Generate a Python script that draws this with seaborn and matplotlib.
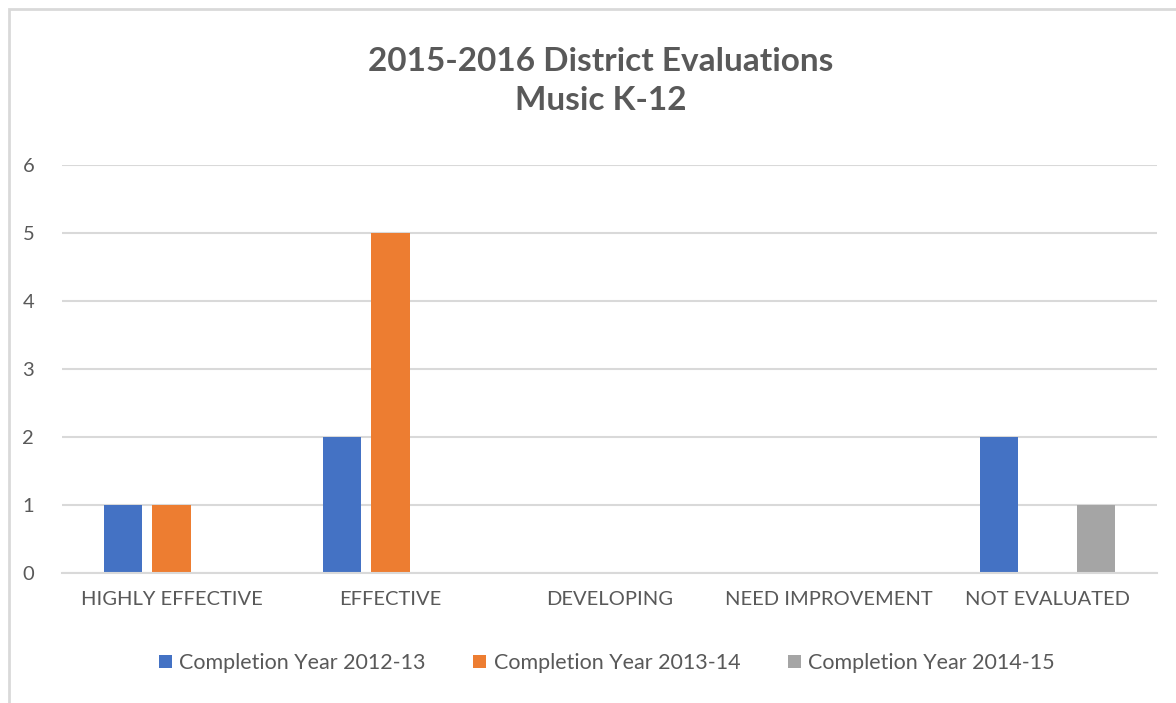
import matplotlib
matplotlib.use("Agg")
import matplotlib.pyplot as plt
import seaborn as sns
import pandas as pd
from matplotlib.patches import Rectangle, Patch

categories = ["HIGHLY EFFECTIVE", "EFFECTIVE", "DEVELOPING", "NEED IMPROVEMENT", "NOT EVALUATED"]
series_names = ["Completion Year 2012-13", "Completion Year 2013-14", "Completion Year 2014-15"]
year_2012_13 = [1, 2, 0, 0, 2]
year_2013_14 = [1, 5, 0, 0, 0]
year_2014_15 = [0, 0, 0, 0, 1]
colors = ["#4472C4", "#ED7D31", "#A5A5A5"]
title = "2015-2016 District Evaluations\nMusic K-12"

rows = []
for name, vals in zip(series_names, [year_2012_13, year_2013_14, year_2014_15]):
    for c, v in zip(categories, vals):
        rows.append({"category": c, "series": name, "value": v})
df = pd.DataFrame(rows)

sns.set_theme(style="white")
plt.rcParams["font.family"] = ["Lato", "DejaVu Sans"]
txt = "#595959"

fig = plt.figure(figsize=(11.76, 7.03), dpi=100)
ax = fig.add_axes([62/1176, 1-573/703, (1157-62)/1176, (573-165)/703])

sns.barplot(data=df, x="category", y="value", hue="series", order=categories,
            hue_order=series_names, palette=colors, width=0.67, gap=0.22,
            saturation=1, ax=ax, legend=False, linewidth=0)

ax.set_ylim(0, 6)
ax.set_xlim(-0.5, 4.5)
ax.set_yticks(range(0, 7))
ax.yaxis.grid(True, color="#D9D9D9", linewidth=1.5)
ax.set_axisbelow(True)
for s in ["top", "right", "left"]:
    ax.spines[s].set_visible(False)
ax.spines["bottom"].set_color("#D9D9D9")
ax.spines["bottom"].set_linewidth(1.5)
ax.tick_params(axis="y", length=0, pad=20, labelsize=14.5, labelcolor=txt)
ax.tick_params(axis="x", length=0, pad=13, labelsize=14.5, labelcolor=txt)
ax.set_xlabel("")
ax.set_ylabel("")

fig.text(0.511, 1-81/703, title, ha="center", va="center", fontsize=24,
         fontweight="bold", color=txt, linespacing=1.38)

handles = [Patch(facecolor=c, edgecolor="none") for c in colors]
fig.legend(handles, series_names, loc="center", bbox_to_anchor=(0.516, 1-663/703),
           ncol=3, frameon=False, fontsize=15.5, labelcolor=txt,
           handlelength=0.6, handleheight=0.6, handletextpad=0.35, columnspacing=2.2)

fig.patches.append(Rectangle((9/1176, -0.05), 1.2, 1-9/703+0.05, transform=fig.transFigure,
                             fill=False, edgecolor="#D9D9D9", linewidth=2, zorder=0))

fig.savefig("out.png", dpi=100)
